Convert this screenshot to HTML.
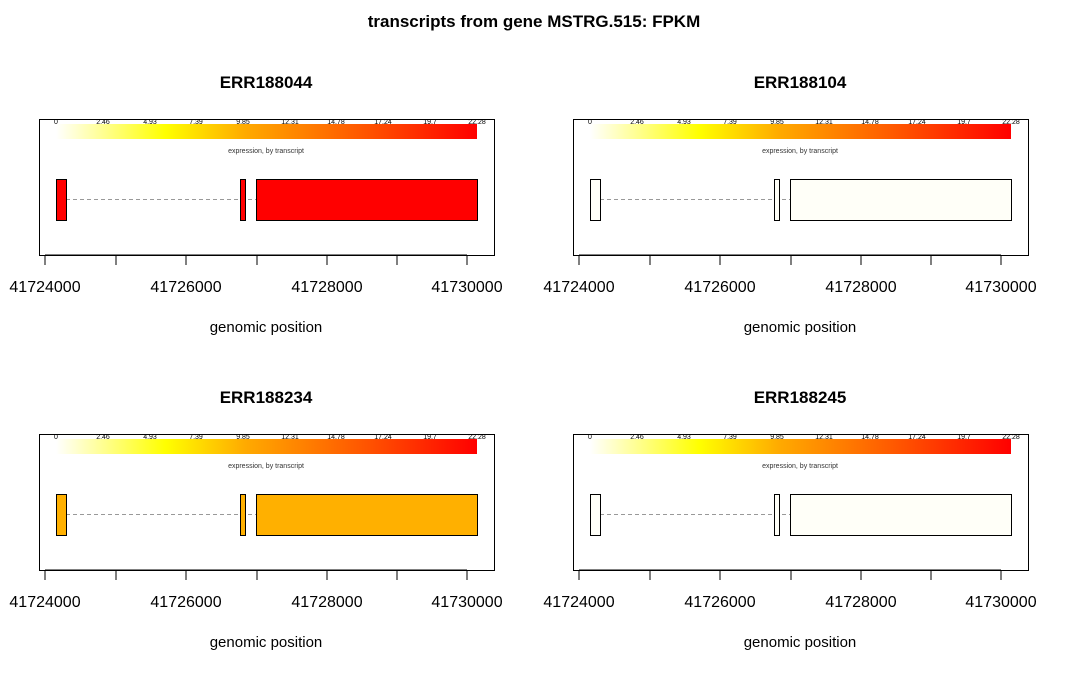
<!DOCTYPE html>
<html><head><meta charset="utf-8"><style>
body{margin:0;background:#fff;}
svg text{font-family:"Liberation Sans",Arial,sans-serif;}
</style></head><body>
<svg width="1068" height="670" xmlns="http://www.w3.org/2000/svg">
<defs>
<linearGradient id="g" x1="0" x2="1" y1="0" y2="0">
<stop offset="0" stop-color="#ffffff"/>
<stop offset="0.26" stop-color="#ffff00"/>
<stop offset="0.45" stop-color="#ffaa00"/>
<stop offset="0.75" stop-color="#ff5000"/>
<stop offset="1" stop-color="#ff0000"/>
</linearGradient>
<g id="panel">
<rect x="39.5" y="119.5" width="455" height="136" fill="none" stroke="#000" stroke-width="1"/>
<rect x="56" y="124" width="421" height="15" fill="url(#g)"/>
<g font-size="7" text-anchor="middle" fill="#000">
<text x="56" y="124">0</text><text x="103" y="124">2.46</text><text x="150" y="124">4.93</text>
<text x="196" y="124">7.39</text><text x="243" y="124">9.85</text><text x="290" y="124">12.31</text>
<text x="336" y="124">14.78</text><text x="383" y="124">17.24</text><text x="430" y="124">19.7</text>
<text x="477" y="124">22.28</text>
</g>
<text x="266" y="153" font-size="7" text-anchor="middle" fill="#333">expression, by transcript</text>
<line x1="66" y1="199.5" x2="256" y2="199.5" stroke="#999" stroke-dasharray="4,3"/>
<g stroke="#000" stroke-width="1">
<line x1="45" y1="255" x2="467" y2="255"/>
<line x1="45" y1="255" x2="45" y2="265"/><line x1="116" y1="255" x2="116" y2="265"/>
<line x1="186" y1="255" x2="186" y2="265"/><line x1="257" y1="255" x2="257" y2="265"/>
<line x1="327" y1="255" x2="327" y2="265"/><line x1="397" y1="255" x2="397" y2="265"/>
<line x1="467" y1="255" x2="467" y2="265"/>
</g>
<g font-size="16" text-anchor="middle" fill="#000">
<text x="45" y="292">41724000</text><text x="186" y="292">41726000</text>
<text x="327" y="292">41728000</text><text x="467" y="292">41730000</text>
</g>
<text x="266" y="332" font-size="15" text-anchor="middle">genomic position</text>
</g>
</defs>
<text x="534" y="27" font-size="17" font-weight="bold" text-anchor="middle">transcripts from gene MSTRG.515: FPKM</text>

<text x="266" y="88" font-size="17" font-weight="bold" text-anchor="middle">ERR188044</text>
<use href="#panel"/>
<g fill="#ff0000" stroke="#000"><rect x="56.5" y="179.5" width="10" height="41"/><rect x="240.5" y="179.5" width="5" height="41"/><rect x="256.5" y="179.5" width="221" height="41"/></g>

<g transform="translate(534,0)">
<text x="266" y="88" font-size="17" font-weight="bold" text-anchor="middle">ERR188104</text>
<use href="#panel"/>
<g fill="#fffff8" stroke="#000"><rect x="56.5" y="179.5" width="10" height="41"/><rect x="240.5" y="179.5" width="5" height="41"/><rect x="256.5" y="179.5" width="221" height="41"/></g>
</g>

<g transform="translate(0,315)">
<text x="266" y="88" font-size="17" font-weight="bold" text-anchor="middle">ERR188234</text>
<use href="#panel"/>
<g fill="#ffb000" stroke="#000"><rect x="56.5" y="179.5" width="10" height="41"/><rect x="240.5" y="179.5" width="5" height="41"/><rect x="256.5" y="179.5" width="221" height="41"/></g>
</g>

<g transform="translate(534,315)">
<text x="266" y="88" font-size="17" font-weight="bold" text-anchor="middle">ERR188245</text>
<use href="#panel"/>
<g fill="#fffff8" stroke="#000"><rect x="56.5" y="179.5" width="10" height="41"/><rect x="240.5" y="179.5" width="5" height="41"/><rect x="256.5" y="179.5" width="221" height="41"/></g>
</g>
</svg>
</body></html>
